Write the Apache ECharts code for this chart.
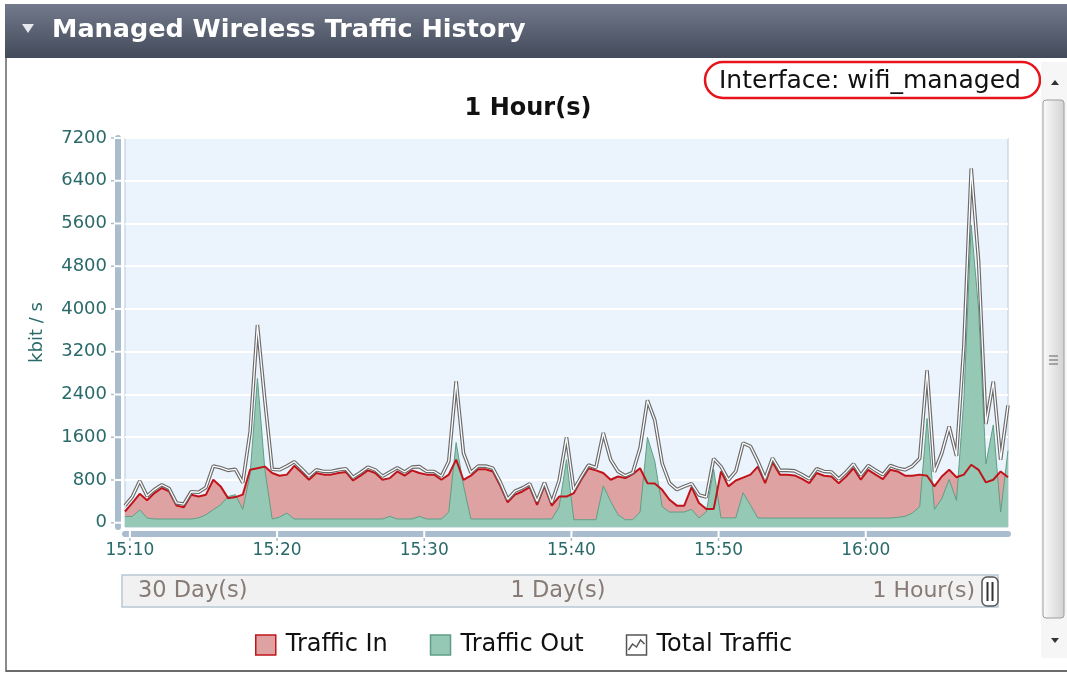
<!DOCTYPE html>
<html><head><meta charset="utf-8">
<script src="https://cdn.jsdelivr.net/npm/echarts@6/dist/echarts.min.js"></script>
<style>html,body{margin:0;padding:0;background:#fff;}#c{width:1067px;height:673px;}</style>
</head><body><div id="c"></div>
<script>
const FONT = '"DejaVu Sans", Verdana, sans-serif';
// sampling: first sample 15:09:40, one sample every 30 s (minutes after 15:00)
const startMinute = 9 + 40 / 60;
const stepMinute = 0.5;

const trafficIn = [210,370,540,420,555,650,585,320,290,525,
 490,525,805,680,460,480,525,990,1020,1050,
 930,880,900,1065,940,805,930,900,900,930,
 950,790,880,980,930,805,835,960,880,980,
 930,900,900,805,900,1180,800,880,1000,1000,
 960,690,380,525,585,665,335,690,320,490,
 490,555,805,1020,980,930,805,865,835,910,
 1020,740,735,615,430,320,320,665,370,255,
 255,960,680,790,845,900,1050,740,1130,900,
 900,885,820,740,930,880,865,740,865,1020,
 805,990,900,815,990,960,880,880,900,880,
 680,865,990,850,900,1085,990,755,805,960,
 850];
const trafficOut = [118,118,240,90,70,70,70,70,70,70,
 90,150,245,335,490,525,250,900,2700,1000,
 70,105,180,70,70,70,70,70,70,70,
 70,70,70,70,70,70,118,70,70,70,
 118,70,70,70,200,1500,700,70,70,70,
 70,70,70,70,70,70,70,70,70,300,
 1180,56,56,56,56,690,400,150,56,56,
 200,1600,1150,300,200,200,200,250,90,200,
 1000,90,90,90,560,330,90,87,87,87,
 87,87,87,87,87,87,87,87,87,87,
 87,87,87,87,87,100,120,180,300,1950,
 250,450,810,420,2300,5570,4000,1100,1830,200,
 1350];
const totalTraffic = [320,490,780,500,620,710,640,370,350,580,
 570,660,1060,1030,980,1000,750,1700,3700,2300,
 1000,990,1060,1140,1010,870,990,960,960,990,
 1010,850,940,1040,990,870,950,1030,950,1040,
 1050,960,960,870,1150,2650,1300,940,1060,1060,
 1020,760,440,590,650,730,400,750,380,790,
 1600,620,860,1080,1030,1680,1180,960,880,940,
 1400,2290,1920,1110,740,620,680,730,520,480,
 1200,1050,800,960,1490,1430,1150,830,1210,980,
 980,970,900,820,1010,960,950,820,950,1100,
 890,1070,980,900,1070,1020,990,1060,1200,2850,
 950,1300,1800,1250,3300,6630,4900,1850,2640,1180,
 2200];

const xTickValues = [10, 20, 30, 40, 50, 60];
const xTickLabels = ['15:10', '15:20', '15:30', '15:40', '15:50', '16:00'];
const yTickValues = [0, 800, 1600, 2400, 3200, 4000, 4800, 5600, 6400, 7200];
const yTickLabels = ['0', '800', '1600', '2400', '3200', '4000', '4800', '5600', '6400', '7200'];
const rangeLabels = ['30 Day(s)', '1 Day(s)', '1 Hour(s)'];

const times = trafficIn.map((_, i) => startMinute + i * stepMinute);
const pair = arr => arr.map((v, i) => [times[i], v]);
const xMin = times[0], xMax = times[times.length - 1];
const yMin = -80, yMax = 7200;

const chart = echarts.init(document.getElementById('c'), null, {renderer: 'canvas'});
const axisColor = '#2b6a6a';
const barColor = '#a9bdcf';
const G = echarts.graphic;

const graphics = [
  // header bar
  {type: 'rect', shape: {x: 5, y: 4, width: 1062, height: 54}, z: 10,
    style: {fill: new G.LinearGradient(0, 0, 0, 1, [{offset: 0, color: '#727a8b'}, {offset: 1, color: '#434a5a'}])}},
  {type: 'polygon', shape: {points: [[22, 24], [34, 24], [28, 33]]}, z: 11, style: {fill: '#e6e8ee'}},
  {type: 'text', x: 52, y: 30, z: 11, style: {text: 'Managed Wireless Traffic History', fill: '#fff',
    font: 'bold 25.5px ' + FONT, align: 'left', verticalAlign: 'middle'}},
  // panel frame
  {type: 'line', shape: {x1: 6, y1: 58, x2: 6, y2: 672}, z: 10, style: {stroke: '#8a8a8a', lineWidth: 2}},
  {type: 'line', shape: {x1: 6, y1: 671, x2: 1067, y2: 671}, z: 10, style: {stroke: '#6a6a6a', lineWidth: 2}},
  // interface label
  {type: 'rect', shape: {x: 705, y: 62, width: 335, height: 36, r: 18}, z: 10,
    style: {fill: 'none', stroke: '#e8141c', lineWidth: 2.5}},
  {type: 'text', x: 719, y: 81, z: 11, style: {text: 'Interface: wifi_managed', fill: '#111',
    font: '25px ' + FONT, align: 'left', verticalAlign: 'middle'}},
  // chart title
  {type: 'text', x: 528, y: 109, z: 11, style: {text: '1 Hour(s)', fill: '#111',
    font: 'bold 24px ' + FONT, align: 'center', verticalAlign: 'middle'}},
  // range slider
  {type: 'rect', shape: {x: 122, y: 575, width: 876, height: 32}, z: 10,
    style: {fill: '#f1f1f1', stroke: '#b7c8d5', lineWidth: 1.5}},
  {type: 'text', x: 138, y: 591, z: 11, style: {text: rangeLabels[0], fill: '#877b76',
    font: '22.5px ' + FONT, align: 'left', verticalAlign: 'middle'}},
  {type: 'text', x: 558, y: 591, z: 11, style: {text: rangeLabels[1], fill: '#877b76',
    font: '22.5px ' + FONT, align: 'center', verticalAlign: 'middle'}},
  {type: 'text', x: 975, y: 591, z: 11, style: {text: rangeLabels[2], fill: '#877b76',
    font: '22px ' + FONT, align: 'right', verticalAlign: 'middle'}},
  {type: 'rect', shape: {x: 982, y: 577, width: 16, height: 29, r: 5}, z: 11,
    style: {fill: '#fff', stroke: '#555', lineWidth: 1.5}},
  {type: 'rect', shape: {x: 986.5, y: 582, width: 2, height: 19}, z: 12, style: {fill: '#333'}},
  {type: 'rect', shape: {x: 991.5, y: 582, width: 2, height: 19}, z: 12, style: {fill: '#333'}},
  // scrollbar
  {type: 'rect', shape: {x: 1041, y: 62, width: 26, height: 596}, z: 10, style: {fill: '#f6f6f6'}},
  {type: 'polygon', shape: {points: [[1051, 85], [1059, 85], [1055, 80]]}, z: 11, style: {fill: '#333'}},
  {type: 'rect', shape: {x: 1043, y: 100, width: 21, height: 518, r: 3}, z: 11,
    style: {fill: new G.LinearGradient(0, 0, 1, 0, [{offset: 0, color: '#fbfbfb'}, {offset: 1, color: '#d2d2d2'}]),
      stroke: '#9c9c9c', lineWidth: 1}},
  {type: 'line', shape: {x1: 1049, y1: 356, x2: 1058, y2: 356}, z: 12, style: {stroke: '#777', lineWidth: 1.2}},
  {type: 'line', shape: {x1: 1049, y1: 360, x2: 1058, y2: 360}, z: 12, style: {stroke: '#777', lineWidth: 1.2}},
  {type: 'line', shape: {x1: 1049, y1: 364, x2: 1058, y2: 364}, z: 12, style: {stroke: '#777', lineWidth: 1.2}},
  {type: 'polygon', shape: {points: [[1051, 638], [1059, 638], [1055, 643]]}, z: 11, style: {fill: '#333'}}
];

// separators that break the axis bars at each tick, placed through the axis scales
const ySepSeries = {
  type: 'custom', silent: true, z: 60, clip: false,
  data: yTickValues.map(v => [xMin, v]),
  renderItem: (params, api) => {
    const c = api.coord([api.value(0), api.value(1)]);
    return {type: 'group', children: [
      {type: 'rect', shape: {x: 114, y: c[1] - 1, width: 8, height: 2}, style: {fill: '#ffffff'}},
      {type: 'rect', shape: {x: 111, y: c[1] - 0.75, width: 3, height: 1.5}, style: {fill: barColor}}
    ]};
  }
};
const xSepSeries = {
  type: 'custom', silent: true, z: 60, clip: false,
  data: xTickValues.map(v => [v, yMin]),
  renderItem: (params, api) => {
    const c = api.coord([api.value(0), api.value(1)]);
    return {type: 'group', children: [
      {type: 'rect', shape: {x: c[0] - 1, y: 530, width: 2, height: 8}, style: {fill: '#ffffff'}},
      {type: 'rect', shape: {x: c[0] - 0.75, y: 538, width: 1.5, height: 3}, style: {fill: barColor}}
    ]};
  }
};

const option = {
  animation: false,
  backgroundColor: '#fff',
  textStyle: {fontFamily: FONT},
  grid: {left: 125, right: 59, top: 138, bottom: 146, show: true,
    backgroundColor: '#ebf3fd', borderColor: '#b6c9dc', borderWidth: 1},
  xAxis: {
    type: 'value', min: xMin, max: xMax, position: 'bottom', offset: 7, z: 1,
    axisLine: {onZero: false, lineStyle: {color: barColor, width: 6}},
    axisTick: {show: false},
    axisLabel: {customValues: xTickValues, margin: 8, color: axisColor, fontSize: 17, fontFamily: FONT,
      formatter: v => xTickLabels[xTickValues.indexOf(v)]},
    splitLine: {show: false}
  },
  yAxis: {
    type: 'value', min: yMin, max: yMax, position: 'left', offset: 7, z: 1,
    name: 'kbit / s', nameLocation: 'middle', nameGap: 72,
    nameTextStyle: {color: axisColor, fontSize: 18, fontFamily: FONT},
    axisLine: {show: true, onZero: false, lineStyle: {color: barColor, width: 6}},
    axisTick: {show: false, customValues: yTickValues},
    axisLabel: {customValues: yTickValues, margin: 11, color: axisColor, fontSize: 18, fontFamily: FONT,
      formatter: v => yTickLabels[yTickValues.indexOf(v)]},
    splitLine: {show: true, lineStyle: {color: '#ffffff', width: 2}}
  },
  legend: {
    left: 250, top: 628, itemWidth: 20, itemHeight: 20, itemGap: 42, selectedMode: false,
    textStyle: {fontSize: 24, color: '#111', fontFamily: FONT, padding: [0, 0, 0, 5]},
    data: [
      {name: 'Traffic In', icon: 'rect', itemStyle: {color: '#dfa2a2', borderColor: '#c0141a', borderWidth: 1.5}},
      {name: 'Traffic Out', icon: 'rect', itemStyle: {color: '#96c9b5', borderColor: '#5e9e86', borderWidth: 1.5}},
      {name: 'Total Traffic', icon: 'path://M0,0H20V20H0Z M2,15L6,9L10,12L14,5L18,9',
        itemStyle: {color: '#fff', borderColor: '#555', borderWidth: 1.5}}
    ]
  },
  series: [
    {name: 'Traffic In', type: 'line', data: pair(trafficIn), symbol: 'none', z: 2,
      lineStyle: {width: 0}, areaStyle: {color: '#dfa2a2', opacity: 1, origin: 'start'}},
    {name: 'Traffic Out', type: 'line', data: pair(trafficOut), symbol: 'none', z: 3,
      lineStyle: {width: 1, color: '#5e9e86'}, areaStyle: {color: '#96c9b5', opacity: 1, origin: 'start'}},
    {name: 'Traffic In', type: 'line', data: pair(trafficIn), symbol: 'none', z: 4,
      lineStyle: {width: 2, color: '#c0141a'}},
    {name: 'Total Traffic', type: 'line', data: pair(totalTraffic), symbol: 'none', z: 5,
      lineStyle: {width: 3.6, color: '#6a6a6a'}},
    {name: 'Total Traffic', type: 'line', data: pair(totalTraffic), symbol: 'none', z: 6,
      lineStyle: {width: 1.3, color: '#ffffff'}},
    ySepSeries,
    xSepSeries
  ],
  graphic: graphics
};
chart.setOption(option);
</script>
</body></html>
